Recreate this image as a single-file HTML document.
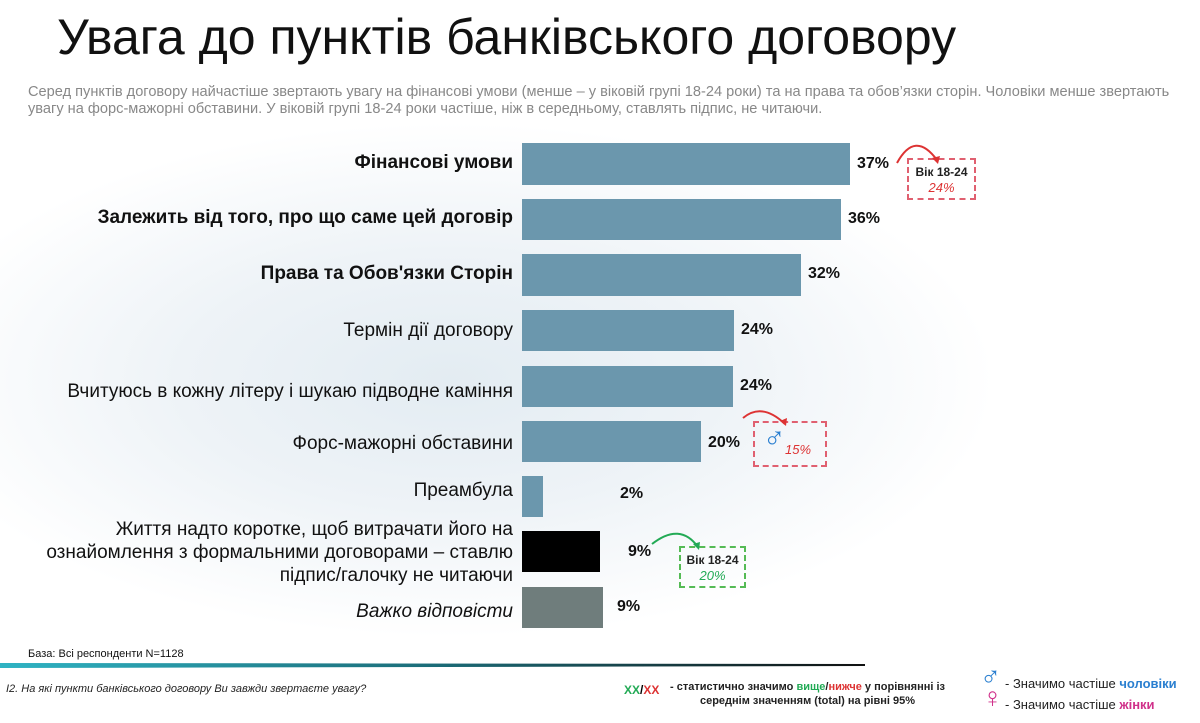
<!DOCTYPE html>
<html><head><meta charset="utf-8"><style>
body{margin:0;width:1200px;height:723px;overflow:hidden;background:#fff;font-family:"Liberation Sans","DejaVu Sans",sans-serif;position:relative}
.bg{position:absolute;left:0;top:120px;width:1000px;height:520px;background:radial-gradient(ellipse at 45% 50%,#e3ecf2 0%,#eef3f7 35%,#fff 70%)}
.a{position:absolute;white-space:nowrap}
.lbl{position:absolute;right:687px;text-align:right;font-size:19px;color:#111}
.bar{position:absolute;left:522px;background:#6b97ad}
.pct{position:absolute;font-size:16px;font-weight:bold;color:#111}
.box{position:absolute;border:2px dashed #e06070;text-align:center;font-size:12px;font-weight:bold;color:#222}
</style></head><body>
<div class="bg"></div>
<div class="a" style="left:57px;top:8px;font-size:50px;color:#111">Увага до пунктів банківського договору</div>
<div class="a" style="left:28px;top:84px;font-size:14.6px;color:#888;line-height:17px">Серед пунктів договору найчастіше звертають увагу на фінансові умови (менше – у віковій групі 18-24 роки) та на права та обов’язки сторін. Чоловіки менше звертають<br>увагу на форс-мажорні обставини. У віковій групі 18-24 роки частіше, ніж в середньому, ставлять підпис, не читаючи.</div>

<div class="lbl" style="top:152px;font-weight:bold">Фінансові умови</div>
<div class="bar" style="top:143px;width:328px;height:42px"></div>
<div class="pct" style="left:857px;top:155px">37%</div>

<div class="lbl" style="top:207px;font-weight:bold">Залежить від того, про що саме цей договір</div>
<div class="bar" style="top:199px;width:319px;height:41px"></div>
<div class="pct" style="left:848px;top:210px">36%</div>

<div class="lbl" style="top:263px;font-weight:bold">Права та Обов'язки Сторін</div>
<div class="bar" style="top:254px;width:279px;height:42px"></div>
<div class="pct" style="left:808px;top:265px">32%</div>

<div class="lbl" style="top:320px">Термін дії договору</div>
<div class="bar" style="top:310px;width:212px;height:41px"></div>
<div class="pct" style="left:741px;top:321px">24%</div>

<div class="lbl" style="top:381px">Вчитуюсь в кожну літеру і шукаю підводне каміння</div>
<div class="bar" style="top:366px;width:211px;height:41px"></div>
<div class="pct" style="left:740px;top:377px">24%</div>

<div class="lbl" style="top:433px">Форс-мажорні обставини</div>
<div class="bar" style="top:421px;width:179px;height:41px"></div>
<div class="pct" style="left:708px;top:434px">20%</div>

<div class="lbl" style="top:480px">Преамбула</div>
<div class="bar" style="top:476px;width:21px;height:41px"></div>
<div class="pct" style="left:620px;top:485px">2%</div>

<div class="lbl" style="top:518px;line-height:23px">Життя надто коротке, щоб витрачати його на<br>ознайомлення з формальними договорами – ставлю<br>підпис/галочку не читаючи</div>
<div class="bar" style="top:531px;width:78px;height:41px;background:#000"></div>
<div class="pct" style="left:628px;top:543px">9%</div>

<div class="lbl" style="top:601px;font-style:italic">Важко відповісти</div>
<div class="bar" style="top:587px;width:81px;height:41px;background:#6f7d7c"></div>
<div class="pct" style="left:617px;top:598px">9%</div>

<div class="box" style="left:907px;top:158px;width:69px;height:42px;line-height:16px;padding-top:4px;box-sizing:border-box">Вік 18-24<br><span style="color:#d33;font-style:italic;font-weight:normal;font-size:13px">24%</span></div>
<div class="box" style="left:753px;top:421px;width:70px;height:42px"><span style="position:absolute;left:8px;top:-2px;color:#2a7fd0;font-size:30px;font-weight:bold">♂</span><span style="position:absolute;left:30px;top:19px;color:#d33;font-style:italic;font-weight:normal;font-size:13px">15%</span></div>
<div class="box" style="left:679px;top:546px;width:67px;height:42px;border-color:#5b5;line-height:16px;padding-top:4px;box-sizing:border-box">Вік 18-24<br><span style="color:#2a5;font-style:italic;font-weight:normal;font-size:13px">20%</span></div>
<svg class="a" style="left:0;top:0" width="1200" height="723">
<path d="M897 163 Q915 130 937 160" fill="none" stroke="#d33" stroke-width="2"/><path d="M932 158 l6 6 l2 -8z" fill="#d33"/>
<path d="M743 418 Q762 402 785 424" fill="none" stroke="#d33" stroke-width="2"/><path d="M780 421 l6 5 l1 -8z" fill="#d33"/>
<path d="M652 544 Q680 522 698 547" fill="none" stroke="#2a5" stroke-width="2"/><path d="M693 544 l6 6 l1 -8z" fill="#2a5"/>
<defs><linearGradient id="g" x1="0" x2="1"><stop offset="0" stop-color="#2fb3c3"/><stop offset=".5" stop-color="#1b6c78"/><stop offset="1" stop-color="#111"/></linearGradient></defs>
<path d="M0 663 L865 664 L865 666 L0 668z" fill="url(#g)"/>
</svg>
<div class="a" style="left:28px;top:648px;font-size:11px;color:#111">База: Всі респонденти N=1128</div>
<div class="a" style="left:6px;top:683px;font-size:11px;font-style:italic;color:#222">І2. На які пункти банківського договору Ви завжди звертаєте увагу?</div>
<div class="a" style="left:624px;top:683px;font-size:12px;font-weight:bold"><span style="color:#2a5">XX</span>/<span style="color:#d33">XX</span></div>
<div class="a" style="left:670px;top:680px;font-size:11px;font-weight:bold;color:#222;text-align:center;line-height:14px">- статистично значимо <span style="color:#2a5">вище</span>/<span style="color:#d33">нижче</span> у порівнянні із<br>середнім значенням (total) на рівні 95%</div>
<div class="a" style="left:980px;top:660px;font-size:28px;color:#2a7fd0;font-weight:bold">♂</div>
<div class="a" style="left:982px;top:682px;font-size:28px;color:#d0308a;font-weight:bold">♀</div>
<div class="a" style="left:1005px;top:676px;font-size:13px;color:#222">- Значимо частіше <b style="color:#2a7fd0">чоловіки</b></div>
<div class="a" style="left:1005px;top:697px;font-size:13px;color:#222">- Значимо частіше <b style="color:#d0308a">жінки</b></div>
</body></html>
